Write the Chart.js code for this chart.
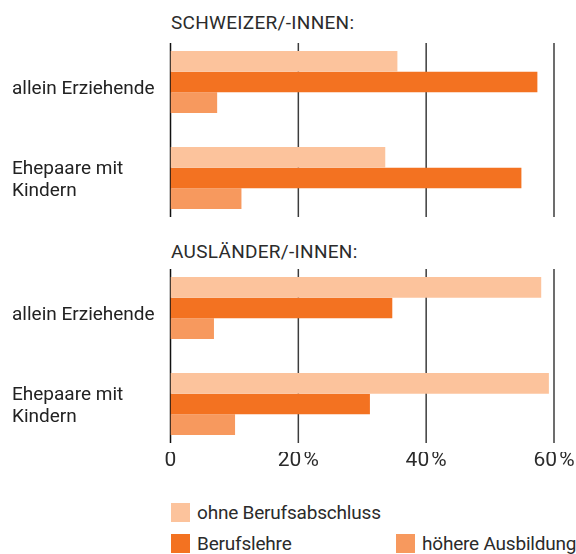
<!DOCTYPE html>
<html>
<head>
<meta charset="utf-8">
<script src="https://cdn.jsdelivr.net/npm/chart.js@4"></script>
<style>
  body { margin: 0; background: #fff; }
  #wrap { position: relative; width: 576px; height: 554px; font-family: Roboto, sans-serif; color: #2b2b2b; }
  canvas { position: absolute; left: 0; }
  .title { position: absolute; left: 171px; font-size: 19px; line-height: 19px; letter-spacing: 0.3px; white-space: nowrap; }
  .item { position: absolute; font-size: 19px; line-height: 19px; letter-spacing: -0.2px; white-space: nowrap; }
  .item span { display: inline-block; width: 19px; height: 19px; vertical-align: top; margin-right: 7px; }
</style>
</head>
<body>
<div id="wrap">
  <div class="title" id="title-ch" style="top:13px">SCHWEIZER/-INNEN:</div>
  <canvas id="chart-ch" width="576" height="240" style="top:0"></canvas>
  <div class="title" id="title-aus" style="top:242px">AUSLÄNDER/-INNEN:</div>
  <canvas id="chart-aus" width="576" height="240" style="top:240px"></canvas>
  <div id="legend"></div>
</div>
<script>
var categories = [['allein Erziehende'], ['Ehepaare mit', 'Kindern']];
var seriesNames = ['ohne Berufsabschluss', 'Berufslehre', 'höhere Ausbildung'];
var seriesColors = ['#fcc39c', '#f37221', '#f7995e'];
// Anteile in % (Schweizer/-innen, Ausländer/-innen)
var chOhne = [35.5, 33.6];
var chLehre = [57.4, 54.9];
var chHoeher = [7.3, 11.1];
var ausOhne = [58.0, 59.2];
var ausLehre = [34.7, 31.2];
var ausHoeher = [6.8, 10.1];
var tickValues = [0, 20, 40, 60];
var tickLabels = ['0', '20\u200a%', '40\u200a%', '60\u200a%'];

// vertical lines, a bit shorter than the plot area
var gridLines = {
  id: 'gridLines',
  beforeDatasetsDraw(chart) {
    var ctx = chart.ctx, area = chart.chartArea, x = chart.scales.x;
    ctx.save();
    tickValues.forEach(function (v) {
      var px = x.getPixelForValue(v);
      ctx.beginPath();
      ctx.lineWidth = 1.5;
      ctx.strokeStyle = v === 0 ? '#111' : '#3c3c3c';
      ctx.moveTo(px, area.top + 9);
      ctx.lineTo(px, area.bottom - 9);
      ctx.stroke();
    });
    ctx.restore();
  }
};

// category labels, left aligned at the page edge
var rowLabels = {
  id: 'rowLabels',
  afterDraw(chart) {
    var ctx = chart.ctx, y = chart.scales.y;
    ctx.save();
    ctx.font = '19px Roboto';
    ctx.fillStyle = '#222';
    ctx.textAlign = 'left';
    ctx.textBaseline = 'middle';
    categories.forEach(function (lines, i) {
      var c = y.getPixelForValue(i);
      var shift = lines.length > 1 ? 2 : 7;
      var top = c + shift - (lines.length - 1) * 11;
      lines.forEach(function (t, j) {
        ctx.fillText(t, 12, top + j * 22);
      });
    });
    ctx.restore();
  }
};

function makeChart(id, values, showTicks, pad) {
  return new Chart(document.getElementById(id), {
    type: 'bar',
    plugins: [gridLines, rowLabels],
    data: {
      labels: categories,
      datasets: values.map(function (d, i) {
        return {
          label: seriesNames[i],
          data: d,
          backgroundColor: seriesColors[i],
          borderWidth: 0,
          categoryPercentage: 0.646,
          barPercentage: 1.0
        };
      })
    },
    options: {
      indexAxis: 'y',
      responsive: false,
      animation: false,
      layout: { padding: pad },
      plugins: { legend: { display: false }, tooltip: { enabled: false } },
      scales: {
        x: {
          display: showTicks,
          min: 0,
          max: 60,
          grid: { display: false, drawTicks: false },
          border: { display: false },
          afterFit: function (s) { if (showTicks) s.height = 28; },
          ticks: {
            stepSize: 20,
            padding: -4,
            color: '#2b2b2b',
            font: { family: 'Roboto', size: 21 },
            callback: function (v, i) { return tickLabels[i]; }
          }
        },
        y: { display: false }
      }
    }
  });
}

makeChart('chart-ch', [chOhne, chLehre, chHoeher], false,
  { top: 34, bottom: 14, left: 170.5, right: 22 });
makeChart('chart-aus', [ausOhne, ausLehre, ausHoeher], true,
  { top: 20, bottom: 0, left: 170.5, right: 22 });

// legend
var legendPos = [[171, 503], [171, 534], [396, 534]];
var legend = document.getElementById('legend');
seriesNames.forEach(function (name, i) {
  var el = document.createElement('div');
  el.className = 'item';
  el.style.left = legendPos[i][0] + 'px';
  el.style.top = legendPos[i][1] + 'px';
  el.innerHTML = '<span style="background:' + seriesColors[i] + '"></span>' + name;
  legend.appendChild(el);
});
</script>
</body>
</html>
